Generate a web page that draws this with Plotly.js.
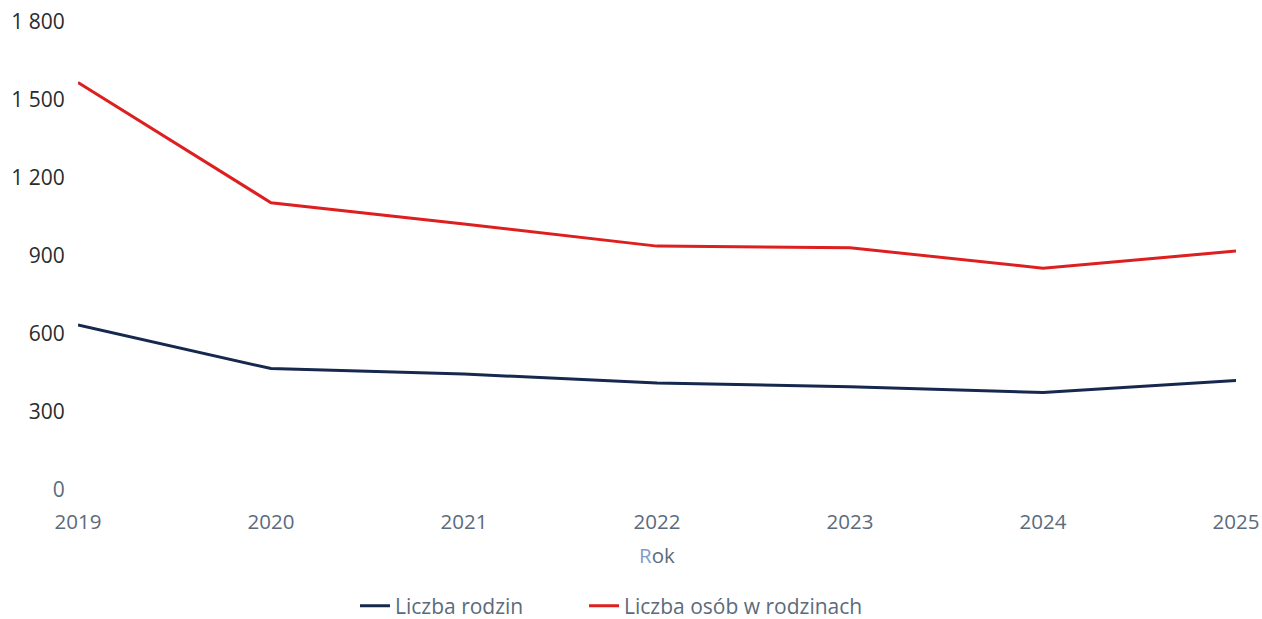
<!DOCTYPE html>
<html>
<head>
<meta charset="utf-8">
<script src="https://cdn.plot.ly/plotly-3.0.1.min.js"></script>
<style>
html,body{margin:0;padding:0;background:#fff;}
#chart{width:1262px;height:619px;}
</style>
</head>
<body>
<div id="chart"></div>
<script>
const years = [2019, 2020, 2021, 2022, 2023, 2024, 2025];
const liczbaRodzin = [635, 467, 446, 412, 397, 375, 421];
const liczbaOsob = [1567, 1105, 1023, 938, 932, 853, 919];
const seriesNames = ['Liczba rodzin', 'Liczba osób w rodzinach'];
const yTickVals = [0, 300, 600, 900, 1200, 1500, 1800];
const yTickText = ['<span style="color:#5b6b7b">0</span>', '300', '600', '900', '1 200', '1 500', '1 800'];

const traces = [
  {x: years, y: liczbaRodzin, name: seriesNames[0], type: 'scatter', mode: 'lines',
   line: {color: '#16284d', width: 3}, legend: 'legend'},
  {x: years, y: liczbaOsob, name: seriesNames[1], type: 'scatter', mode: 'lines',
   line: {color: '#dd1f1f', width: 3}, legend: 'legend2'}
];

const legendFont = {size: 21, color: '#5b6b7b'};
const layout = {
  width: 1262, height: 619,
  margin: {l: 78, r: 26, t: 22, b: 129, autoexpand: false},
  paper_bgcolor: '#fff', plot_bgcolor: '#fff',
  font: {family: 'Open Sans, sans-serif', size: 20, color: '#5b6b7b'},
  showlegend: true,
  xaxis: {
    range: [2019, 2025], tickvals: years, ticktext: years.map(String),
    showgrid: false, zeroline: false, showline: false, automargin: false,
    ticks: 'outside', ticklen: 13, tickcolor: 'rgba(0,0,0,0)',
    tickfont: {size: 20.5, color: '#5b6b7b'},
    title: {text: '<span style="color:#7f9ccb">R</span>ok', font: {size: 20.5, color: '#5b6b7b'}, standoff: 15}
  },
  yaxis: {
    range: [0, 1800], tickvals: yTickVals, ticktext: yTickText,
    showgrid: false, zeroline: false, showline: false, automargin: false,
    ticks: 'outside', ticklen: 8, tickcolor: 'rgba(0,0,0,0)',
    tickfont: {size: 21, color: '#2b2b2b'}
  },
  legend: {
    orientation: 'h', x: 0.2392, xanchor: 'left', y: -0.248, yanchor: 'middle',
    font: legendFont
  },
  legend2: {
    orientation: 'h', x: 0.437, xanchor: 'left', y: -0.248, yanchor: 'middle',
    font: legendFont
  }
};

Plotly.newPlot('chart', traces, layout, {displayModeBar: false, staticPlot: true});
</script>
</body>
</html>
